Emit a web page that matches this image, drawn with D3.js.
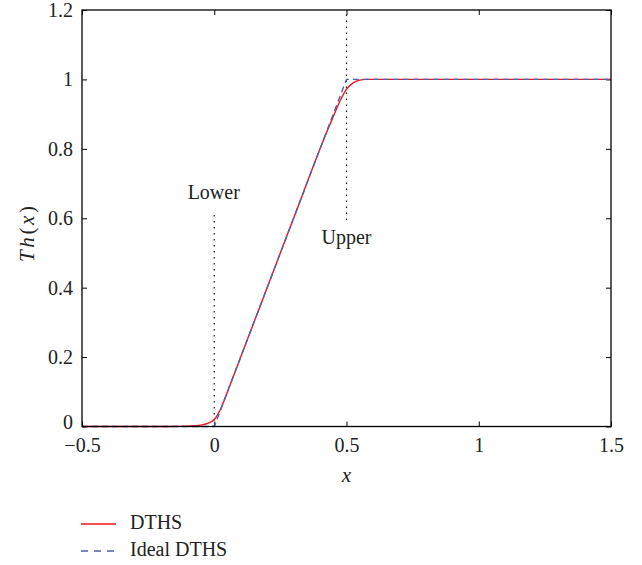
<!DOCTYPE html>
<html><head><meta charset="utf-8">
<script src="https://cdn.jsdelivr.net/npm/d3@7"></script>
<style>body{margin:0;background:#fff}svg{display:block}text{font-family:"Liberation Serif","DejaVu Serif",serif;fill:#222}</style>
</head><body><svg id="c" width="642" height="565"></svg>
<script>
const xTicks = [-0.5, 0, 0.5, 1, 1.5];
const xTickLabels = ["\u22120.5", "0", "0.5", "1", "1.5"];
const yTicks = [0, 0.2, 0.4, 0.6, 0.8, 1, 1.2];
const yTickLabels = ["0", "0.2", "0.4", "0.6", "0.8", "1", "1.2"];
const dthsX = [-0.5, -0.3, -0.2, -0.15, -0.1, -0.075, -0.05, -0.025, 0, 0.025, 0.05, 0.075, 0.1, 0.2, 0.3, 0.4, 0.425, 0.45, 0.475, 0.5, 0.525, 0.55, 0.575, 0.6, 0.7, 1.5];
const dthsY = [0, 0, 0, 0.0003, 0.001, 0.002, 0.004, 0.009, 0.02, 0.052, 0.1, 0.15, 0.2, 0.4, 0.6, 0.8, 0.848, 0.893, 0.937, 0.972, 0.99, 0.998, 1, 1, 1, 1];
const idealX = [-0.5, 0, 0.5, 1.5];
const idealY = [0, 0, 1, 1];
const markers = [{x: 0, label: "Lower", y0: 0, y1: 0.618}, {x: 0.5, label: "Upper", y0: 0.595, y1: 1.2}];
const legendItems = [{label: "DTHS", color: "#f0141e", dash: null}, {label: "Ideal DTHS", color: "#4a62a8", dash: "7,6"}];

const svg = d3.select("#c");
const L = 82, R = 611, T = 10, B = 426.5;
const x = d3.scaleLinear().domain([-0.5, 1.5]).range([L, R]);
const y = d3.scaleLinear().domain([0, 1.2]).range([B, T]);
const tl = 5;
const FS = 20;

svg.append("g").attr("transform", `translate(0,${B})`)
  .call(d3.axisBottom(x).tickValues(xTicks).tickFormat((d,i)=>xTickLabels[i]).tickSizeInner(-tl).tickSizeOuter(0).tickPadding(11))
  .call(g=>{g.select(".domain").remove();g.attr("font-family",null).attr("font-size",null);g.selectAll("text").attr("font-size",FS).attr("fill","#222");});
svg.append("g").attr("transform", `translate(0,${T})`)
  .call(d3.axisTop(x).tickValues(xTicks).tickFormat("").tickSizeInner(-tl).tickSizeOuter(0))
  .call(g=>g.select(".domain").remove());
svg.append("g").attr("transform", `translate(${L},0)`)
  .call(d3.axisLeft(y).tickValues(yTicks).tickFormat((d,i)=>yTickLabels[i]).tickSizeInner(-tl).tickSizeOuter(0).tickPadding(9))
  .call(g=>{g.select(".domain").remove();g.attr("font-family",null).attr("font-size",null);
    g.selectAll("text").attr("font-size",FS).attr("fill","#222").attr("y",d=>d===0?-4:0);});
svg.append("g").attr("transform", `translate(${R},0)`)
  .call(d3.axisRight(y).tickValues(yTicks).tickFormat("").tickSizeInner(-tl).tickSizeOuter(0))
  .call(g=>g.select(".domain").remove());
svg.selectAll(".tick line").attr("stroke","#000");

markers.forEach(m=>{
  svg.append("line").attr("x1",x(m.x)).attr("x2",x(m.x)).attr("y1",y(m.y0)).attr("y2",y(m.y1))
    .attr("stroke","#111").attr("stroke-width",1.2).attr("stroke-dasharray","1.5,4.5");
});
svg.append("text").attr("x",x(0)-0.5).attr("y",199).attr("text-anchor","middle").attr("font-size",FS).text(markers[0].label);
svg.append("text").attr("x",x(0.5)).attr("y",244).attr("text-anchor","middle").attr("font-size",FS).text(markers[1].label);

const line = d3.line().x(d=>x(d[0])).y(d=>y(d[1]));
const lineS = d3.line().x(d=>x(d[0])).y(d=>y(d[1])).curve(d3.curveMonotoneX);
svg.append("path").attr("d", lineS(dthsX.map((v,i)=>[v,dthsY[i]]))).attr("fill","none")
  .attr("stroke",legendItems[0].color).attr("stroke-width",1.4);
svg.append("path").attr("d", line(idealX.map((v,i)=>[v,idealY[i]]))).attr("fill","none")
  .attr("stroke",legendItems[1].color).attr("stroke-width",1.4).attr("stroke-dasharray","6,4");

svg.append("rect").attr("x",L).attr("y",T).attr("width",R-L).attr("height",B-T).attr("fill","none").attr("stroke","#000").attr("stroke-width",1.3);

svg.append("text").attr("x",x(0.5)).attr("y",482).attr("text-anchor","middle").attr("font-size",FS+1).attr("font-style","italic").text("x");
const yl = svg.append("text").attr("transform",`translate(34,234) rotate(-90)`).attr("text-anchor","middle").attr("font-size",FS+1)
  .attr("textLength",56).attr("lengthAdjust","spacing");
yl.append("tspan").attr("font-style","italic").text("Th");
yl.append("tspan").text("(");
yl.append("tspan").attr("font-style","italic").text("x");
yl.append("tspan").text(")");

legendItems.forEach((it,i)=>{
  const yy = 524 + i*27;
  svg.append("line").attr("x1",81).attr("x2",116).attr("y1",yy).attr("y2",yy).attr("stroke",it.color).attr("stroke-width",1.4)
    .attr("stroke-dasharray",it.dash);
  svg.append("text").attr("x",130).attr("y",yy+4.5).attr("font-size",FS).text(it.label);
});
</script></body></html>
